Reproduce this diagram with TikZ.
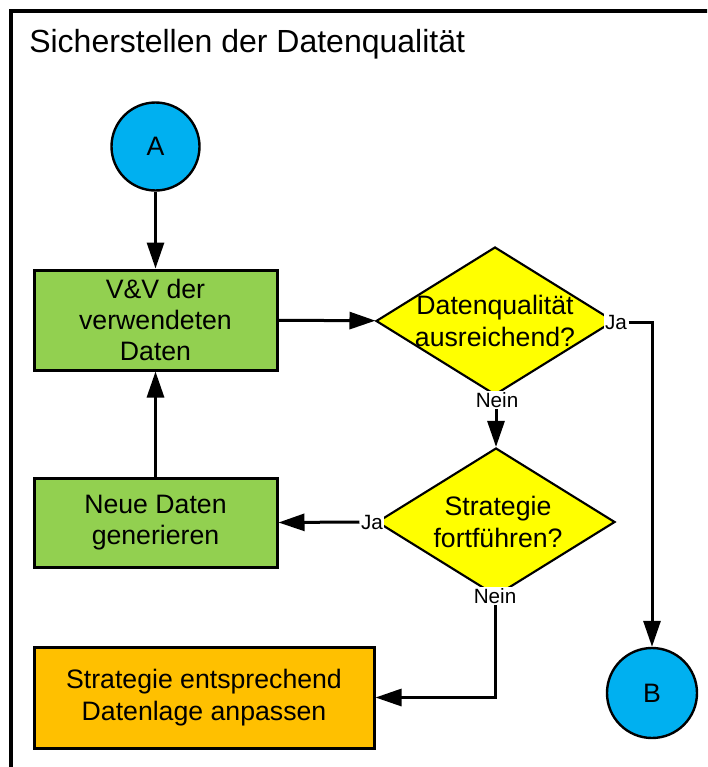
\documentclass[tikz,border=0pt]{standalone}
\usepackage{fontspec}
\setmainfont{Liberation Sans}
\usetikzlibrary{arrows.meta,shapes.geometric}
\definecolor{boxgreen}{HTML}{92D050}
\definecolor{boxorange}{HTML}{FFC000}
\definecolor{decyellow}{HTML}{FFFF00}
\definecolor{termblue}{HTML}{00B0F0}
\tikzset{
  process/.style={rectangle, draw=black, line width=2.25pt, fill=boxgreen,
    align=center, inner sep=0pt, font=\fontsize{20pt}{23.5pt}\selectfont},
  decision/.style={diamond, draw=black, line width=1.6pt, fill=decyellow,
    inner sep=0pt, minimum width=178.5pt, minimum height=111pt},
  dectext/.style={align=center, inner sep=0pt, font=\fontsize{20pt}{23.5pt}\selectfont},
  terminal/.style={circle, draw=black, line width=1.8pt, fill=termblue,
    inner sep=0pt, font=\fontsize{20pt}{24pt}\selectfont},
  branch/.style={fill=white, inner sep=1pt, font=\fontsize{15.5pt}{18pt}\selectfont},
  flow/.style={line width=2.25pt, -{Triangle[length=19.5pt,width=12.75pt]}},
  line/.style={line width=2.25pt}
}
\begin{document}
\begin{tikzpicture}[x=0.75pt,y=-0.75pt]
  \useasboundingbox (0,0) rectangle (707,767);
  \begin{scope}
    \clip (0,0) rectangle (707,767);
    \draw[line width=2.6pt] (11,11) rectangle (760,830);
  \end{scope}

  \node[anchor=base west, inner sep=0pt, font=\fontsize{24pt}{28pt}\selectfont]
    (title) at (29,53) {Sicherstellen der Datenqualität};

  % terminals
  \node[terminal, minimum size=66pt] (A) at (155.5,146.5) {A};
  \node[terminal, minimum size=67.5pt] (B) at (652,693) {B};

  % process boxes
  \node[process, minimum width=182.25pt, minimum height=75pt] (vv) at (155.5,320)
    {V\&V der\\verwendeten\\Daten};
  \node[process, minimum width=182.25pt, minimum height=66.75pt] (neu) at (155.5,522.5)
    {Neue Daten\\generieren};
  \node[process, fill=boxorange, minimum width=255pt, minimum height=75.75pt] (anp) at (204,697.5)
    {Strategie entsprechend\\Datenlage anpassen};

  % decisions
  \node[decision] (d1) at (495,321) {};
  \node[dectext] (t1) at (495,321) {Datenqualität\\ausreichend?};
  \node[decision] (d2) at (496,522) {};
  \node[dectext] (t2) at (498,522) {Strategie\\fortführen?};

  % branch labels
  \node[branch] (ja1) at (616,322) {Ja};
  \node[branch] (nein1) at (497,400) {Nein};
  \node[branch] (ja2) at (372,522) {Ja};
  \node[branch] (nein2) at (495,596) {Nein};

  % connectors
  \draw[flow] (A) -- (vv);
  \draw[flow] (vv) -- (d1);
  \draw[flow] (ja1.east) -| (B.north);
  \draw[flow] (nein1.south -| d2.north) -- (d2.north);
  \draw[flow] (ja2.west) -- (neu.east);
  \draw[flow] (neu) -- (vv);
  \draw[flow] (nein2.south) |- (anp.east);
\end{tikzpicture}
\end{document}
